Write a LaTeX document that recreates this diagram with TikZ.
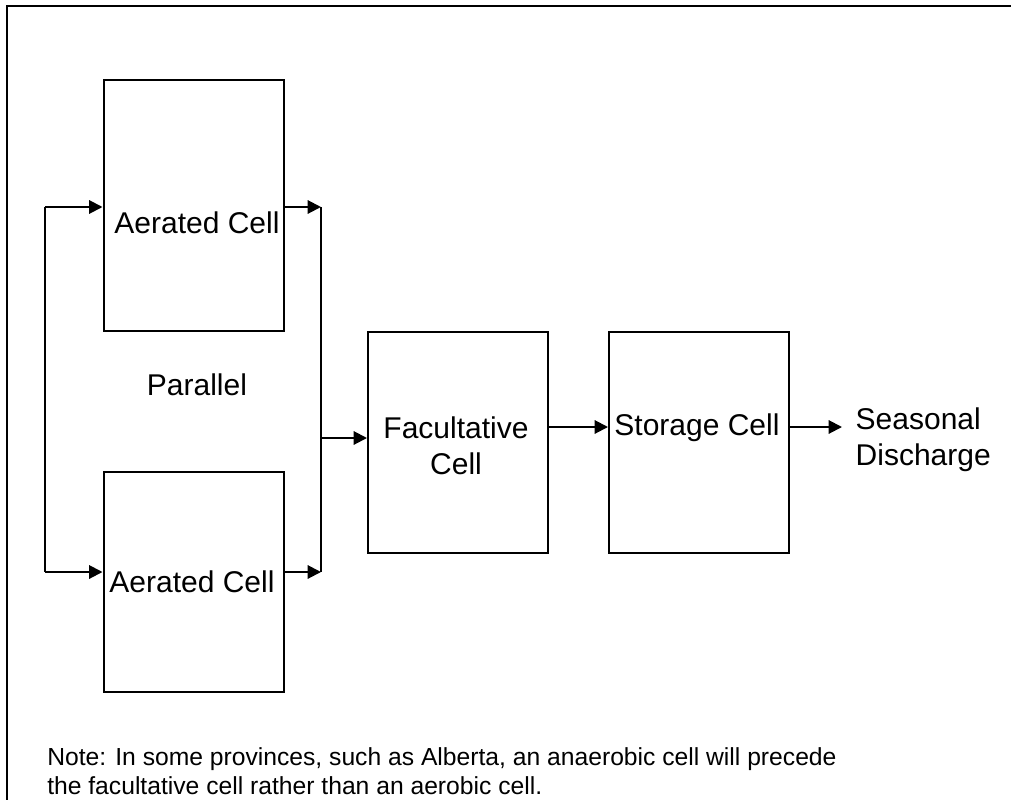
\documentclass[tikz,border=0pt]{standalone}
\usepackage{fontspec}
\setmainfont{Liberation Sans}
\usetikzlibrary{positioning,arrows.meta}

\begin{document}
\begin{tikzpicture}[x=0.75pt, y=-0.75pt,
	cell/.style={draw, line width=1.5pt, minimum width=135pt, inner sep=0pt},
	flow/.style={line width=1.5pt, -{Triangle[length=10pt,width=10pt]}},
	bus/.style={line width=1.5pt},
	every node/.style={font=\fontsize{22.5}{27}\selectfont}]

	\useasboundingbox (0,0) rectangle (1011,800);

	% frame
	\coordinate (fbl) at (7,800);
	\coordinate (ftl) at (7,6);
	\coordinate (ftr) at (1011,6);
	\draw[line width=1.5pt] (fbl) -- (ftl) -- (ftr);

	% cells
	\node[cell, minimum height=188.25pt] (ar1) at (193.5,205.5) {};
	\node[cell, minimum height=165pt, below=104.25pt of ar1] (ar2) {};
	\node[cell, minimum height=165.75pt] (fac) at (458,442.5) {};
	\node[cell, minimum height=165.75pt, right=44.25pt of fac] (sto) {};

	% texts
	\node (ar1t) at (197,223) {Aerated Cell};
	\node (ar2t) at (192,582) {Aerated Cell};
	\node (par) at (197,385) {Parallel};
	\node[align=center] (fact) at (456,446) {Facultative\\Cell};
	\node (stot) at (697,428) {Storage Cell};
	\node[align=left, anchor=west] (dis) at (851,440) {Seasonal\\Discharge};
	\node[align=left, anchor=west, inner sep=0pt, font=\fontsize{18.5}{21.5}\selectfont] (note) at (47,771)
		{Note: In some provinces, such as Alberta, an anaerobic cell will precede\\
		 the facultative cell rather than an aerobic cell.};

	% split and join
	\coordinate (lbt) at (45,207);
	\coordinate (lbb) at (45,572);
	\coordinate (rbt) at (321,207);
	\coordinate (rbb) at (321,572);
	\coordinate (rbm) at (321,438);
	\coordinate (out) at (842,427);

	\draw[bus] (lbt) -- (lbb);
	\draw[flow] (lbt) -- (lbt -| ar1.west);
	\draw[flow] (lbb) -- (lbb -| ar2.west);
	\draw[flow] (rbt -| ar1.east) -- (rbt);
	\draw[flow] (rbb -| ar2.east) -- (rbb);
	\draw[bus] (rbt) -- (rbb);
	\draw[flow] (rbm) -- (rbm -| fac.west);

	\draw[flow] (out -| fac.east) -- (out -| sto.west);
	\draw[flow] (out -| sto.east) -- (out);

\end{tikzpicture}
\end{document}
